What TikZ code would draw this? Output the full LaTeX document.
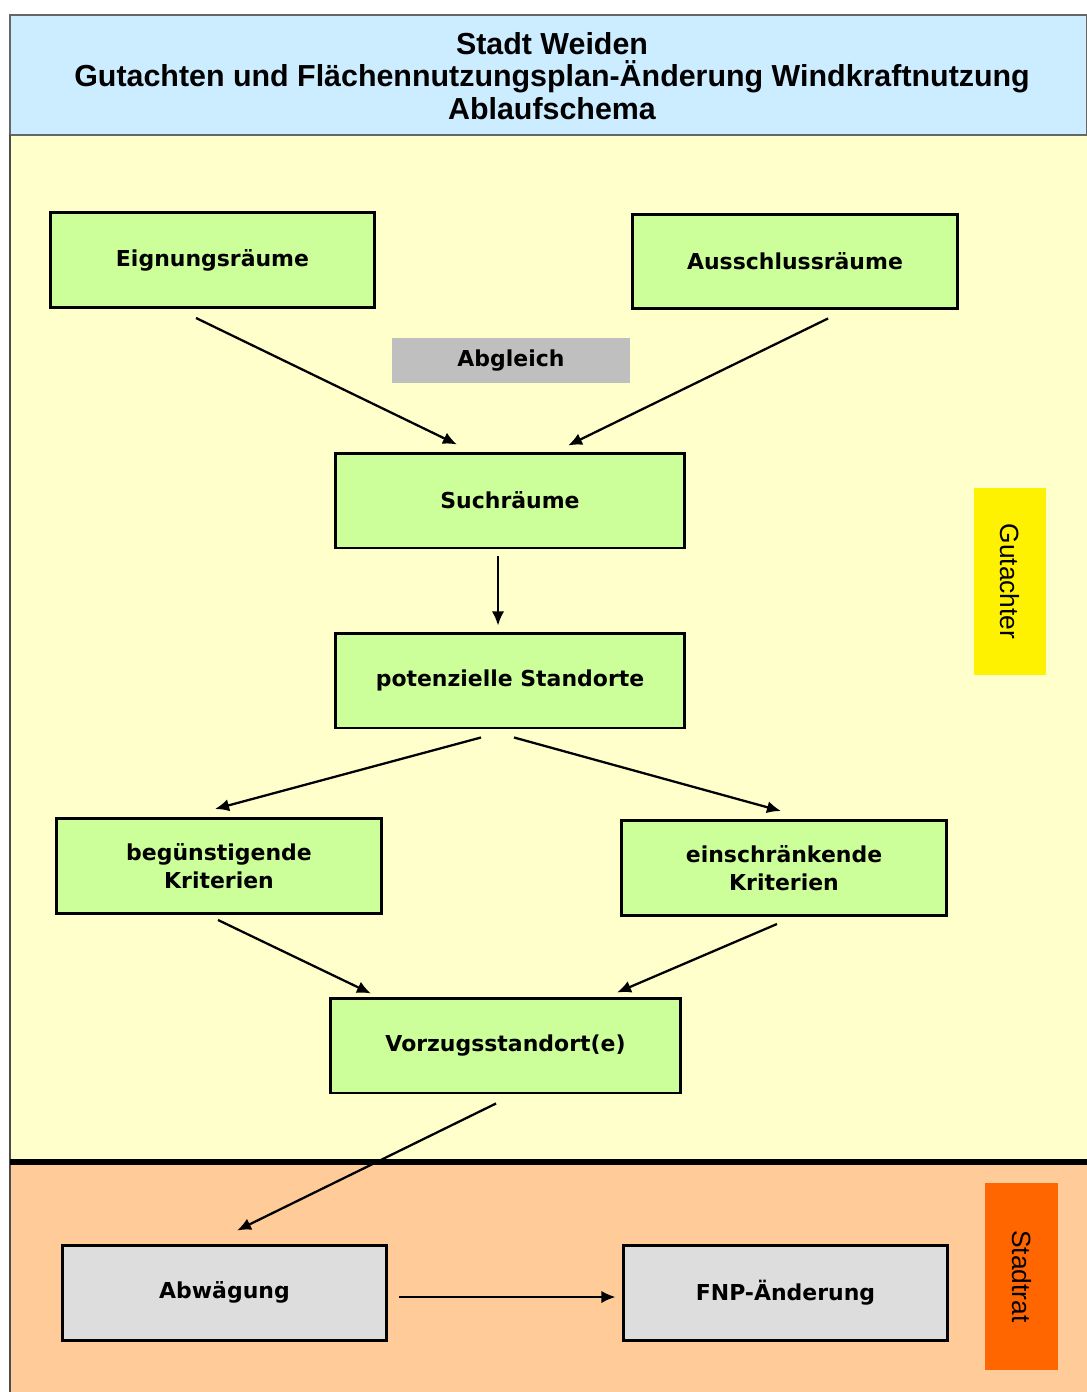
\documentclass[tikz,border=0pt]{standalone}
\usepackage{fontspec}
\setmainfont{Liberation Sans}
\newfontfamily\boxfont{DejaVu Sans}
\usepackage{tikz}
\usetikzlibrary{arrows.meta,calc}

\definecolor{headblue}{HTML}{CCECFF}
\definecolor{bgyellow}{HTML}{FFFFCC}
\definecolor{bgorange}{HTML}{FFCC99}
\definecolor{boxgreen}{HTML}{CCFF99}
\definecolor{boxgray}{HTML}{DDDDDD}
\definecolor{tagorange}{HTML}{FF6600}

\begin{document}
\begin{tikzpicture}[x=0.02cm,y=-0.02cm,
    stepbox/.style={draw,line width=1.7pt,fill=boxgreen,minimum width=6.5cm,minimum height=1.9cm,
      align=center,font=\boxfont\bfseries\fontsize{12.5}{16}\selectfont},
    widebox/.style={stepbox,minimum width=7cm},
    grbox/.style={stepbox,fill=boxgray},
    sidetag/.style={minimum width=1.45cm,minimum height=3.74cm,font=\fontsize{15}{18}\selectfont},
    flow/.style={line width=1.3pt,-{Latex[length=8pt,width=7pt]}}]
    \useasboundingbox (0,0) rectangle (1087,1392);
    % background
    \fill[bgyellow] (10,135) rectangle (1087,1162);
    \fill[bgorange] (10,1162) rectangle (1087,1392);
    \draw[fill=headblue,draw=black!60,line width=0.8pt] (10,15) rectangle (1087,135);
    \draw[black!70,line width=0.8pt] (10,135) -- (10,1392);
    \node[align=center,font=\bfseries\fontsize{17.3}{18.7}\selectfont] (title) at (552,76)
      {Stadt Weiden\\Gutachten und Flächennutzungsplan-Änderung Windkraftnutzung\\Ablaufschema};
    % boxes
    \node[stepbox] (eig) at (212.5,260) {Eignungsräume};
    \node[stepbox] (aus) at (795,261.5) {Ausschlussräume};
    \node[fill=black!25,minimum width=4.76cm,minimum height=0.9cm,font=\boxfont\bfseries\fontsize{12.5}{16}\selectfont] (abg) at (511,360.5) {Abgleich};
    \node[widebox] (such) at (510,500.5) {Suchräume};
    \node[widebox] (pot) at (510,680.5) {potenzielle Standorte};
    \node[stepbox] (beg) at (219,866) {begünstigende\\Kriterien};
    \node[stepbox] (ein) at (784,868) {einschränkende\\Kriterien};
    \node[widebox] (vor) at (505.5,1045.5) {Vorzugsstandort(e)};
    \node[grbox] (abw) at (224.5,1292.5) {Abwägung};
    \node[grbox] (fnp) at (785.5,1292.5) {FNP-Änderung};
    % side tags
    \node[sidetag,fill=yellow] (gut) at (1010,581.5) {};
    \node[rotate=-90,font=\fontsize{15}{18}\selectfont] at (gut.center) {Gutachter};
    \node[sidetag,fill=tagorange] (rat) at (1021.5,1276.5) {};
    \node[rotate=-90,font=\fontsize{15}{18}\selectfont] at (rat.center) {Stadtrat};
    % arrows
    \draw[flow] ($(eig.south)+(-16.5,9)$) -- ($(such.north)+(-53,-7)$);
    \draw[flow] ($(aus.south)+(33,8)$) -- ($(such.north)+(58,-6)$);
    \draw[flow] ($(such.south)+(-12,7)$) -- ($(pot.north)+(-12,-6)$);
    \draw[flow] ($(pot.south)+(-29,8)$) -- ($(beg.north)+(-4,-8)$);
    \draw[flow] ($(pot.south)+(4,8)$) -- ($(ein.north)+(-3,-8)$);
    \draw[flow] ($(beg.south)+(-1,5)$) -- ($(vor.north)+(-134.5,-3)$);
    \draw[flow] ($(ein.south)+(-7,7)$) -- ($(vor.north)+(111.5,-4)$);
    \draw[flow] ($(vor.south)+(-9.5,9)$) -- ($(abw.north)+(12.5,-13)$);
    \draw[flow] ($(abw.east)+(11,4.5)$) -- ($(fnp.west)+(-6,4.5)$);
    % border between Gutachter and Stadtrat
    \draw[line width=3pt] (10,1162) -- (1087,1162);
\end{tikzpicture}
\end{document}
